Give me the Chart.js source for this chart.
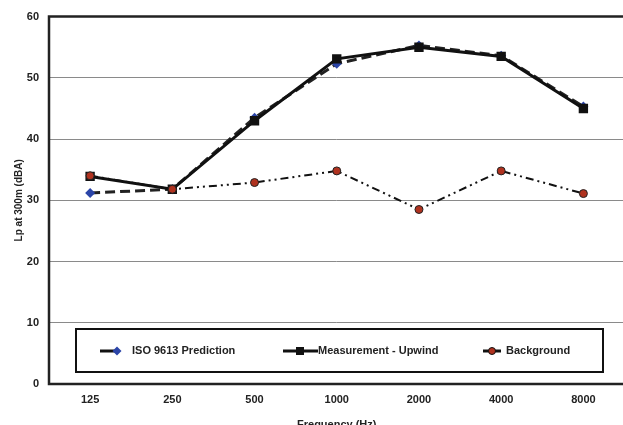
<!DOCTYPE html>
<html>
<head>
<meta charset="utf-8">
<script src="https://cdn.jsdelivr.net/npm/chart.js@4/dist/chart.umd.min.js"></script>
<style>
  html, body { margin: 0; padding: 0; background: #fff; overflow: hidden; }
  #wrap { position: relative; width: 632px; height: 432px; }
</style>
</head>
<body>
<div id="wrap"><canvas id="chart"></canvas></div>
<script>
const frequencies = ['125', '250', '500', '1000', '2000', '4000', '8000'];
const isoPrediction = [31.2, 31.8, 43.5, 52.3, 55.3, 53.6, 45.3];
const measurementUpwind = [33.9, 31.8, 43.0, 53.1, 55.0, 53.5, 45.0];
const background = [34.0, 31.8, 32.9, 34.8, 28.5, 34.8, 31.1];
const yTicks = [0, 10, 20, 30, 40, 50, 60];

const FONT = 'Liberation Sans, Arial, sans-serif';

// frame + boxed legend drawn on top of the plot
const framePlugin = {
    id: 'frame',
    afterDatasetsDraw(chart) {
        const ctx = chart.ctx;
        const a = chart.chartArea;
        ctx.save();
        ctx.strokeStyle = '#222';
        ctx.lineWidth = 2.5;
        ctx.beginPath();
        ctx.moveTo(a.right + 4, a.top);
        ctx.lineTo(a.left, a.top);
        ctx.lineTo(a.left, a.bottom);
        ctx.lineTo(a.right + 4, a.bottom);
        ctx.stroke();

        // legend box
        ctx.fillStyle = '#fff';
        ctx.fillRect(76, 329, 527, 43);
        ctx.lineWidth = 2;
        ctx.strokeStyle = '#111';
        ctx.strokeRect(76, 329, 527, 43);

        const y = 351;
        ctx.font = 'bold 11px ' + FONT;
        ctx.textBaseline = 'middle';
        ctx.fillStyle = '#222';

        // ISO
        ctx.lineWidth = 3;
        ctx.strokeStyle = '#111';
        ctx.beginPath(); ctx.moveTo(100, y); ctx.lineTo(116, y); ctx.stroke();
        ctx.fillStyle = '#2b45a8';
        ctx.beginPath();
        ctx.moveTo(117, y - 4.5); ctx.lineTo(121.5, y); ctx.lineTo(117, y + 4.5); ctx.lineTo(112.5, y);
        ctx.closePath(); ctx.fill();
        ctx.fillStyle = '#222';
        ctx.fillText('ISO 9613 Prediction', 132, y);

        // Measurement
        ctx.beginPath(); ctx.moveTo(283, y); ctx.lineTo(318, y); ctx.stroke();
        ctx.fillStyle = '#111';
        ctx.fillRect(296, y - 4, 8, 8);
        ctx.fillStyle = '#222';
        ctx.fillText('Measurement - Upwind', 318, y);

        // Background
        ctx.beginPath(); ctx.moveTo(483, y); ctx.lineTo(501, y); ctx.stroke();
        ctx.fillStyle = '#b0321f';
        ctx.lineWidth = 1;
        ctx.beginPath(); ctx.arc(492, y, 3.5, 0, Math.PI * 2); ctx.fill(); ctx.stroke();
        ctx.fillStyle = '#222';
        ctx.fillText('Background', 506, y);
        ctx.restore();
    }
};

new Chart(document.getElementById('chart'), {
    type: 'line',
    data: {
        labels: frequencies,
        datasets: [{
            label: 'Background',
            data: background,
            borderColor: '#111',
            borderWidth: 2,
            borderDash: [8, 4, 2, 4, 2, 4],
            pointStyle: 'circle',
            pointRadius: 4,
            pointBackgroundColor: '#b0321f',
            pointBorderColor: '#222',
            pointBorderWidth: 1,
            tension: 0,
            order: 1
        }, {
            label: 'Measurement - Upwind',
            data: measurementUpwind,
            borderColor: '#111',
            borderWidth: 3,
            pointStyle: 'rect',
            pointRadius: 4.5,
            pointBackgroundColor: '#111',
            pointBorderColor: '#111',
            tension: 0,
            order: 2
        }, {
            label: 'ISO 9613 Prediction',
            data: isoPrediction,
            borderColor: '#222',
            borderWidth: 3,
            borderDash: [10, 5],
            pointStyle: 'rectRot',
            pointRadius: 5,
            pointBackgroundColor: '#2b45a8',
            pointBorderColor: '#2b45a8',
            pointBorderWidth: 0,
            tension: 0,
            order: 3
        }]
    },
    options: {
        responsive: true,
        maintainAspectRatio: false,
        animation: false,
        layout: { padding: { top: 13, right: 0, left: 0, bottom: 0 } },
        plugins: {
            legend: { display: false },
            tooltip: { enabled: false }
        },
        scales: {
            x: {
                offset: true,
                grid: { display: false, drawTicks: false },
                border: { display: false },
                ticks: {
                    color: '#222',
                    padding: 9,
                    font: { family: FONT, size: 11, weight: 'bold' }
                },
                title: {
                    display: true,
                    text: 'Frequency (Hz)',
                    color: '#222',
                    padding: { top: 4, bottom: 0 },
                    font: { family: FONT, size: 11, weight: 'bold' }
                },
                afterFit(scale) { scale.height = 48; }
            },
            y: {
                min: 0,
                max: 60,
                afterBuildTicks(scale) { scale.ticks = yTicks.map(v => ({ value: v })); },
                grid: {
                    drawTicks: false,
                    color: ctx => (ctx.tick.value === 0 || ctx.tick.value === 60) ? 'rgba(0,0,0,0)' : '#8a8a8a',
                    lineWidth: 1
                },
                border: { display: false },
                ticks: {
                    color: '#222',
                    padding: 10,
                    font: { family: FONT, size: 11, weight: 'bold' }
                },
                title: {
                    display: true,
                    text: 'Lp at 300m (dBA)',
                    color: '#222',
                    padding: { top: 13, bottom: 0 },
                    font: { family: FONT, size: 10, weight: 'bold' }
                },
                afterFit(scale) { scale.width = 49; }
            }
        }
    },
    plugins: [framePlugin]
});
</script>
</body>
</html>
